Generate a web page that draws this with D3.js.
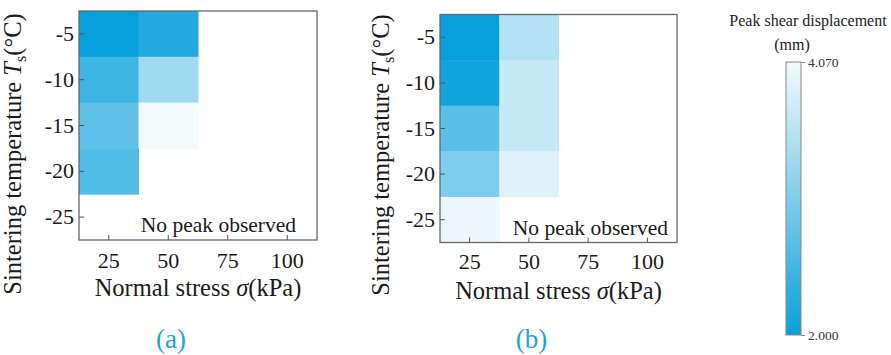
<!DOCTYPE html>
<html>
<head>
<meta charset="utf-8">
<script src="https://cdn.jsdelivr.net/npm/d3@7"></script>
<style>
  body { margin: 0; background: #fff; }
</style>
</head>
<body>
<div id="chart"></div>
<script>
// categories
var stresses = [25, 50, 75, 100];
var temps = [-5, -10, -15, -20, -25];

// peak shear displacement (mm), rows = temps, cols = stresses, null = no peak
var valuesA = [
  [2.00, 2.23, null, null],
  [2.47, 3.33, null, null],
  [2.77, 4.07, null, null],
  [2.64, null, null, null],
  [null, null, null, null]
];
var valuesB = [
  [2.00, 3.50, null, null],
  [2.07, 3.66, null, null],
  [2.73, 3.66, null, null],
  [3.03, 3.89, null, null],
  [4.00, null, null, null]
];

// colour bar limits
var colorDomain = [2.000, 4.070];
var colorTickLabels = ["2.000", "4.070"];

var W = 891, H = 355;
var serif = '"Liberation Serif"';

var svg = d3.select("#chart")
  .append("svg")
  .attr("width", W)
  .attr("height", H);

var color = d3.scaleLinear()
  .domain(colorDomain)
  .range(["#08a0dc", "#f3fafc"])
  .interpolate(d3.interpolateRgb);

function label(sel, size, fill) {
  return sel.style("font-family", serif)
    .style("font-size", size + "px")
    .style("fill", fill || "#1a1a1a");
}

// one heat-map panel
function drawPanel(opt) {
  var g = svg.append("g")
    .attr("transform", `translate(${opt.left}, ${opt.top})`);

  var x = d3.scaleBand()
    .domain(stresses)
    .range([0, opt.width]);

  var y = d3.scaleBand()
    .domain(temps)
    .range([0, opt.height]);

  // cells
  var cells = [];
  opt.values.forEach(function(row, i) {
    row.forEach(function(v, j) {
      if (v !== null) cells.push({ t: temps[i], s: stresses[j], v: v });
    });
  });

  g.selectAll("rect.cell")
    .data(cells)
    .enter()
    .append("rect")
    .attr("class", "cell")
    .attr("x", d => x(d.s))
    .attr("y", d => y(d.t))
    .attr("width", x.bandwidth() + 0.5)
    .attr("height", y.bandwidth() + 0.5)
    .attr("fill", d => color(d.v));

  // axes, ticks pointing inward
  var xAxis = g.append("g")
    .attr("transform", `translate(0, ${opt.height})`)
    .call(d3.axisBottom(x).tickSizeInner(-5).tickSizeOuter(0).tickPadding(opt.xPad));

  var yAxis = g.append("g")
    .call(d3.axisLeft(y).tickSizeInner(-5).tickSizeOuter(0).tickPadding(5));

  [xAxis, yAxis].forEach(function(a) {
    a.attr("font-family", null).attr("font-size", null);
    a.select(".domain").remove();
    a.selectAll("line").attr("stroke", "#555").attr("stroke-width", 1);
    label(a.selectAll("text"), 22);
  });

  // frame
  g.append("rect")
    .attr("width", opt.width)
    .attr("height", opt.height)
    .attr("fill", "none")
    .attr("stroke", "#666")
    .attr("stroke-width", 1.3);

  label(g.append("text"), 21.5)
    .attr("x", opt.width - opt.notePad)
    .attr("y", opt.height - 8)
    .attr("text-anchor", "end")
    .text("No peak observed");

  // x title
  var xt = label(g.append("text"), 24.5)
    .attr("x", opt.width / 2)
    .attr("y", opt.height + 56)
    .attr("text-anchor", "middle");
  xt.append("tspan").text("Normal stress ");
  xt.append("tspan").style("font-style", "italic").text("σ");
  xt.append("tspan").text("(kPa)");

  // y title
  var yt = label(g.append("text"), 24.5)
    .attr("transform", `translate(${opt.yTitleX}, ${opt.yTitleY}) rotate(-90)`)
    .attr("text-anchor", "middle");
  yt.append("tspan").text("Sintering temperature ");
  yt.append("tspan").style("font-style", "italic").text("T");
  yt.append("tspan").attr("dy", 5).style("font-size", "16px").text("s");
  yt.append("tspan").attr("dy", -5).text("(°C)");

  // panel label
  label(svg.append("text"), 27, "#1ca3e0")
    .attr("x", opt.left + opt.width / 2 - 27)
    .attr("y", 348)
    .attr("text-anchor", "middle")
    .text(opt.label);
}

drawPanel({ values: valuesA, left: 79, top: 11, width: 238, height: 229,
  notePad: 21, xPad: 12, yTitleX: -58, yTitleY: 143, label: "(a)" });
drawPanel({ values: valuesB, left: 440, top: 14.5, width: 237, height: 228,
  notePad: 9, xPad: 10.5, yTitleX: -51, yTitleY: 140.5, label: "(b)" });

// colour bar
var cb = { x: 786, y: 62, w: 15, h: 273 };

var grad = svg.append("defs").append("linearGradient")
  .attr("id", "cbar")
  .attr("x1", 0).attr("y1", 1).attr("x2", 0).attr("y2", 0);
d3.range(0, 1.0001, 0.1).forEach(function(t) {
  var v = colorDomain[0] + t * (colorDomain[1] - colorDomain[0]);
  grad.append("stop").attr("offset", t).attr("stop-color", color(v));
});

var cbScale = d3.scaleLinear()
  .domain(colorDomain)
  .range([cb.y + cb.h, cb.y]);

svg.append("rect")
  .attr("x", cb.x).attr("y", cb.y)
  .attr("width", cb.w).attr("height", cb.h)
  .attr("fill", "url(#cbar)")
  .attr("stroke", "#888")
  .attr("stroke-width", 1);

var cbAxis = svg.append("g")
  .attr("transform", `translate(${cb.x + cb.w}, 0)`)
  .call(d3.axisRight(cbScale)
    .tickValues(colorDomain)
    .tickFormat((d, i) => colorTickLabels[i])
    .tickSize(4).tickSizeOuter(0).tickPadding(3));
cbAxis.attr("font-family", null).attr("font-size", null);
cbAxis.select(".domain").remove();
cbAxis.selectAll("line").attr("stroke", "#888");
label(cbAxis.selectAll("text"), 13.5, "#333");

label(svg.append("text"), 16)
  .attr("x", 808)
  .attr("y", 26)
  .attr("text-anchor", "middle")
  .text("Peak shear displacement");
label(svg.append("text"), 16)
  .attr("x", 792)
  .attr("y", 50)
  .attr("text-anchor", "middle")
  .text("(mm)");
</script>
</body>
</html>
